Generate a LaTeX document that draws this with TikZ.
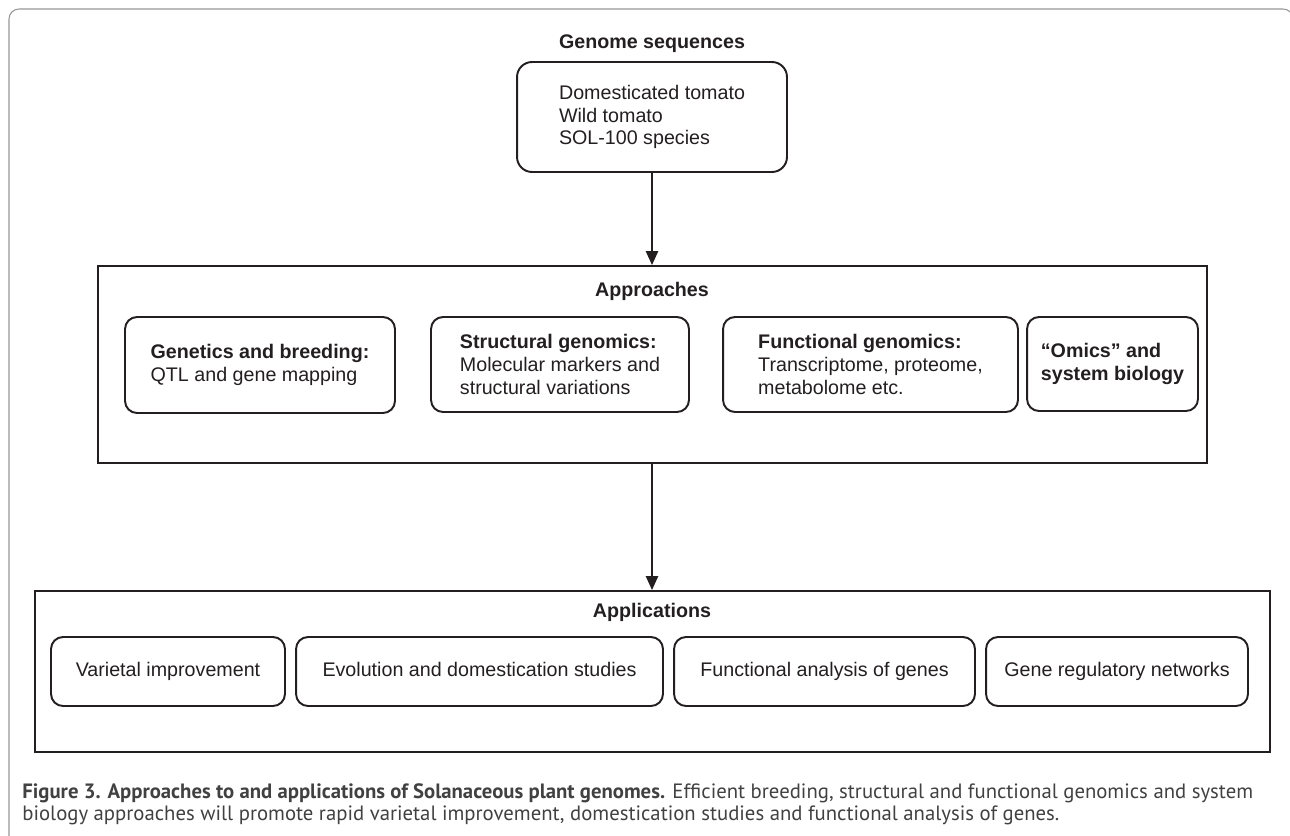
\documentclass[tikz,border=0pt]{standalone}
\usepackage{fontspec}
\setmainfont{Liberation Sans}
\newfontfamily\capfont{PT Sans}
\usetikzlibrary{arrows.meta}
\definecolor{framegray}{RGB}{150,150,150}
\definecolor{inkgray}{RGB}{35,31,32}
\definecolor{capgray}{RGB}{65,65,65}

\begin{document}
\fontsize{11.2}{13}\selectfont
\begin{tikzpicture}[x=0.02cm,y=-0.02cm,
  box/.style={draw=inkgray,line width=1.1pt,rounded corners=0.24cm,inner sep=0pt,align=left,text=inkgray},
  appbox/.style={draw=inkgray,line width=1.1pt,rounded corners=0.24cm,inner sep=0pt,text=inkgray,
    minimum height=1.38cm,text height=8.2pt,text depth=2.4pt},
  panel/.style={draw=inkgray,line width=1.1pt,inner sep=0pt},
  heading/.style={font=\bfseries,text=inkgray},
  flow/.style={draw=inkgray,line width=1.1pt,-{Triangle[width=7pt,length=8pt]}}]
\useasboundingbox (0,0) rectangle (1290,835);
\clip (0,0) rectangle (1290,835);
\draw[framegray,line width=0.6pt,rounded corners=0.2cm] (9,850) -- (9,9) -- (1293,9) -- (1293,850);

% genome sequences
\node[heading] (genometitle) at (652,44) {Genome sequences};
\node[box,rounded corners=0.3cm,minimum width=5.4cm,minimum height=2.2cm] (genome) at (652,117)
  {Domesticated tomato\\Wild tomato\\SOL-100 species};

% approaches
\node[panel,minimum width=22.18cm,minimum height=3.94cm] (approaches) at (652.5,364.5) {};
\node[heading] (approachtitle) at (652,291) {Approaches};
\node[box,minimum width=5.4cm,minimum height=1.92cm]  (genetics)   at (260,365)    {\textbf{Genetics and breeding:}\\QTL and gene mapping};
\node[box,minimum width=5.16cm,minimum height=1.9cm]  (structural) at (560,364.5)  {\textbf{Structural genomics:}\\Molecular markers and\\structural variations};
\node[box,minimum width=5.9cm,minimum height=1.9cm]   (functional) at (870.5,364.5) {\textbf{Functional genomics:}\\Transcriptome, proteome,\\metabolome etc.};
\node[box,minimum width=3.42cm,minimum height=1.88cm] (omics)      at (1112.5,364) {\textbf{``Omics'' and}\\\textbf{system biology}};

% applications
\node[panel,minimum width=24.7cm,minimum height=3.22cm] (applications) at (652.5,671.5) {};
\node[heading] (applicationtitle) at (652,612) {Applications};
\node[appbox,minimum width=4.68cm] (varietal)   at (168,671.5)   {Varietal improvement};
\node[appbox,minimum width=7.34cm] (evolution)  at (479.5,671.5) {Evolution and domestication studies};
\node[appbox,minimum width=6.02cm] (analysis)   at (824.5,671.5) {Functional analysis of genes};
\node[appbox,minimum width=5.24cm] (regulatory) at (1117,671.5)  {Gene regulatory networks};

\draw[flow] (genome.south) -- (genome.south |- approaches.north);
\draw[flow] (genome.south |- approaches.south) -- (genome.south |- applications.north);

% caption
\node[anchor=north west,align=left,inner sep=0pt,text=capgray,font=\capfont\fontsize{11.8}{12.6}\selectfont] (caption) at (22,783)
  {\textbf{Figure 3. Approaches to and applications of Solanaceous plant genomes.} Efficient breeding, structural and functional genomics and system\\
   biology approaches will promote rapid varietal improvement, domestication studies and functional analysis of genes.};
\end{tikzpicture}
\end{document}
